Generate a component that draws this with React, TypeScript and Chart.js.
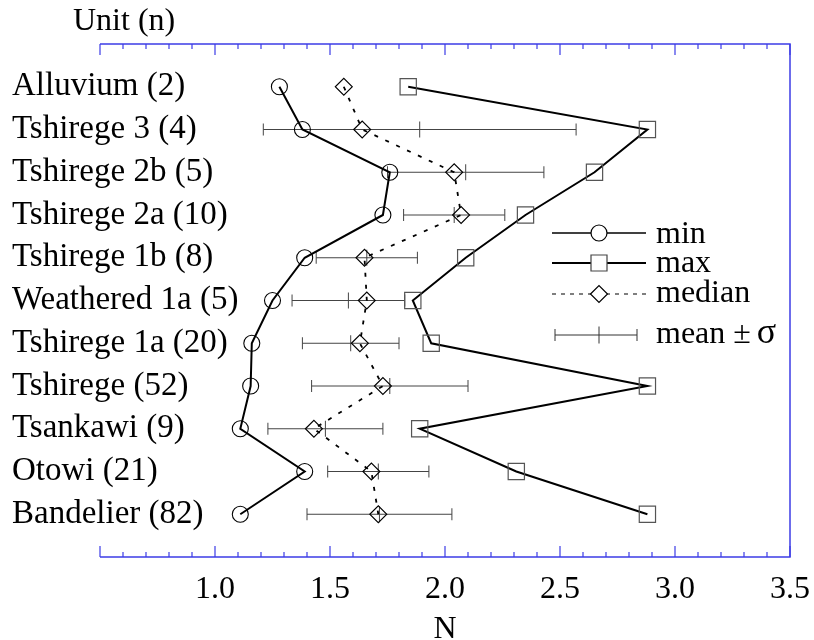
import React, { useEffect, useRef } from 'react';
import { Chart, registerables } from 'chart.js';

Chart.register(...registerables);

// ---------- data ----------
const categories = [
  'Alluvium (2)',
  'Tshirege 3 (4)',
  'Tshirege 2b (5)',
  'Tshirege 2a (10)',
  'Tshirege 1b (8)',
  'Weathered 1a (5)',
  'Tshirege 1a (20)',
  'Tshirege (52)',
  'Tsankawi (9)',
  'Otowi (21)',
  'Bandelier (82)',
];
const minN = [1.28, 1.38, 1.76, 1.73, 1.39, 1.25, 1.16, 1.155, 1.11, 1.39, 1.11];
const maxN = [1.84, 2.88, 2.65, 2.35, 2.09, 1.86, 1.94, 2.88, 1.89, 2.31, 2.88];
const medianN = [1.56, 1.64, 2.04, 2.07, 1.65, 1.66, 1.63, 1.73, 1.43, 1.68, 1.71];
const meanN: (number | null)[] = [null, 1.89, 2.09, 2.04, 1.66, 1.58, 1.59, 1.76, 1.48, 1.71, 1.715];
const sigmaN: (number | null)[] = [null, 0.68, 0.34, 0.22, 0.22, 0.245, 0.21, 0.34, 0.25, 0.22, 0.315];
const xMin = 0.5;
const xMax = 3.5;
const legendLabels = ['min', 'max', 'median', 'mean \u00b1 ', '\u03c3'];
const yAxisTitle = 'Unit (n)';
const xAxisTitle = 'N';

// ---------- styles ----------
const FONT = '"Liberation Serif", "Times New Roman", Times, serif';
const AXIS_BLUE = '#3c3ce6';

const toPoints = (arr: number[]) => arr.map((v, i) => ({ x: v, y: i }));

const drawCircle = (ctx: CanvasRenderingContext2D, x: number, y: number) => {
  ctx.beginPath();
  ctx.arc(x, y, 8, 0, Math.PI * 2);
  ctx.stroke();
};
const drawSquare = (ctx: CanvasRenderingContext2D, x: number, y: number) => {
  ctx.beginPath();
  ctx.rect(x - 8, y - 8, 16, 16);
  ctx.stroke();
};
const drawDiamond = (ctx: CanvasRenderingContext2D, x: number, y: number) => {
  ctx.beginPath();
  ctx.moveTo(x - 8.5, y);
  ctx.lineTo(x, y - 8.5);
  ctx.lineTo(x + 8.5, y);
  ctx.lineTo(x, y + 8.5);
  ctx.closePath();
  ctx.stroke();
};

const customPlugin = {
  id: 'customDecor',
  beforeDatasetsDraw(chart: any) {
    const { ctx, scales } = chart;
    const xs = scales.x;
    const ys = scales.y;
    ctx.save();
    ctx.strokeStyle = '#444444';
    ctx.lineWidth = 1;
    meanN.forEach((m, i) => {
      const s = sigmaN[i];
      if (m == null || s == null) return;
      const py = ys.getPixelForValue(i);
      const x0 = xs.getPixelForValue(m - s);
      const x1 = xs.getPixelForValue(m + s);
      const xm = xs.getPixelForValue(m);
      ctx.beginPath();
      ctx.moveTo(x0, py);
      ctx.lineTo(x1, py);
      ctx.moveTo(x0, py - 6);
      ctx.lineTo(x0, py + 6);
      ctx.moveTo(x1, py - 6);
      ctx.lineTo(x1, py + 6);
      ctx.moveTo(xm, py - 8);
      ctx.lineTo(xm, py + 8);
      ctx.stroke();
    });
    ctx.restore();
  },
  afterDraw(chart: any) {
    const { ctx, chartArea, scales } = chart;
    const xs = scales.x;
    const { left, right, top, bottom } = chartArea;
    ctx.save();
    // frame
    ctx.strokeStyle = AXIS_BLUE;
    ctx.lineWidth = 1.5;
    ctx.beginPath();
    ctx.moveTo(left, top);
    ctx.lineTo(right, top);
    ctx.lineTo(right, bottom);
    ctx.lineTo(left, bottom);
    ctx.stroke();
    // ticks
    ctx.lineWidth = 1.2;
    ctx.beginPath();
    for (let k = Math.round(xMin * 10); k <= Math.round(xMax * 10); k++) {
      const px = xs.getPixelForValue(k / 10);
      const len = k % 5 === 0 ? 11 : 5;
      ctx.moveTo(px, bottom);
      ctx.lineTo(px, bottom - len);
      ctx.moveTo(px, top);
      ctx.lineTo(px, top + len);
    }
    ctx.stroke();

    // y axis title
    ctx.fillStyle = '#000';
    ctx.font = `32px ${FONT}`;
    ctx.textAlign = 'left';
    ctx.textBaseline = 'alphabetic';
    ctx.fillText(yAxisTitle, 73, 30);

    // legend
    const lx0 = 552;
    const lx1 = 646;
    const lmx = 599;
    const tx = 656;
    const rows = [233, 263, 294, 335];
    const baselines = [243, 272, 302, 343];
    ctx.strokeStyle = '#000';
    // min
    ctx.lineWidth = 1.6;
    ctx.beginPath();
    ctx.moveTo(lx0, rows[0]);
    ctx.lineTo(lx1, rows[0]);
    ctx.stroke();
    ctx.lineWidth = 1.2;
    ctx.fillStyle = '#fff';
    ctx.beginPath();
    ctx.arc(lmx, rows[0], 8, 0, Math.PI * 2);
    ctx.fill();
    drawCircle(ctx, lmx, rows[0]);
    // max
    ctx.lineWidth = 2;
    ctx.beginPath();
    ctx.moveTo(lx0, rows[1]);
    ctx.lineTo(lx1, rows[1]);
    ctx.stroke();
    ctx.fillRect(lmx - 8, rows[1] - 8, 16, 16);
    ctx.lineWidth = 1.2;
    ctx.strokeStyle = '#444';
    drawSquare(ctx, lmx, rows[1]);
    // median
    ctx.strokeStyle = '#000';
    ctx.lineWidth = 1.2;
    ctx.setLineDash([4, 5]);
    ctx.beginPath();
    ctx.moveTo(lx0, rows[2]);
    ctx.lineTo(lx1, rows[2]);
    ctx.stroke();
    ctx.setLineDash([]);
    ctx.beginPath();
    ctx.moveTo(lmx - 8.5, rows[2]);
    ctx.lineTo(lmx, rows[2] - 8.5);
    ctx.lineTo(lmx + 8.5, rows[2]);
    ctx.lineTo(lmx, rows[2] + 8.5);
    ctx.closePath();
    ctx.fill();
    drawDiamond(ctx, lmx, rows[2]);
    // mean ± sigma
    ctx.strokeStyle = '#333';
    ctx.lineWidth = 1;
    ctx.beginPath();
    ctx.moveTo(555, rows[3]);
    ctx.lineTo(637, rows[3]);
    ctx.moveTo(555, rows[3] - 6);
    ctx.lineTo(555, rows[3] + 6);
    ctx.moveTo(637, rows[3] - 6);
    ctx.lineTo(637, rows[3] + 6);
    ctx.moveTo(599, rows[3] - 8.5);
    ctx.lineTo(599, rows[3] + 8.5);
    ctx.stroke();

    ctx.fillStyle = '#000';
    ctx.font = `32px ${FONT}`;
    ctx.fillText(legendLabels[0], tx, baselines[0]);
    ctx.fillText(legendLabels[1], tx, baselines[1]);
    ctx.fillText(legendLabels[2], tx, baselines[2]);
    ctx.fillText(legendLabels[3], tx, baselines[3]);
    const w = ctx.measureText(legendLabels[3]).width;
    ctx.font = `36px ${FONT}`;
    ctx.fillText(legendLabels[4], tx + w - 2, baselines[3]);
    ctx.restore();
  },
};

export default function App() {
  const canvasRef = useRef<HTMLCanvasElement | null>(null);

  useEffect(() => {
    if (!canvasRef.current) return;
    const chart = new Chart(canvasRef.current, {
      type: 'line',
      data: {
        datasets: [
          {
            label: 'median',
            data: toPoints(medianN),
            borderColor: '#000',
            borderWidth: 1.8,
            borderDash: [4, 8],
            pointStyle: 'rectRot',
            pointRadius: 8.5,
            pointBorderColor: '#000',
            pointBorderWidth: 1.1,
            pointBackgroundColor: 'rgba(0,0,0,0)',
            tension: 0,
          },
          {
            label: 'min',
            data: toPoints(minN),
            borderColor: '#000',
            borderWidth: 2,
            pointStyle: 'circle',
            pointRadius: 8,
            pointBorderColor: '#000',
            pointBorderWidth: 1.1,
            pointBackgroundColor: 'rgba(0,0,0,0)',
            tension: 0,
          },
          {
            label: 'max',
            data: toPoints(maxN),
            borderColor: '#000',
            borderWidth: 2,
            pointStyle: 'rect',
            pointRadius: 11.5,
            pointBorderColor: '#555',
            pointBorderWidth: 1.2,
            pointBackgroundColor: 'rgba(0,0,0,0)',
            tension: 0,
          },
        ],
      },
      options: {
        animation: false,
        responsive: false,
        events: [],
        layout: { padding: { left: 100, right: 24, top: 44, bottom: 0 } },
        plugins: {
          legend: { display: false },
          tooltip: { enabled: false },
          title: { display: false },
        },
        scales: {
          x: {
            type: 'linear',
            min: xMin,
            max: xMax,
            grid: { display: false, drawTicks: false },
            border: { display: false },
            ticks: {
              stepSize: 0.5,
              padding: 13,
              color: '#000',
              font: { family: FONT, size: 32, lineHeight: 1.2 },
              maxRotation: 0,
              autoSkip: false,
              callback: (v: any) => (Number(v) >= 0.99 ? Number(v).toFixed(1) : ''),
            },
            title: {
              display: true,
              text: xAxisTitle,
              color: '#000',
              font: { family: FONT, size: 32, lineHeight: 0.8 },
              padding: { top: 6.3, bottom: -2 },
            },
            afterFit: (scale: any) => {
              scale.height = 83;
              scale.paddingLeft = 0;
              scale.paddingRight = 0;
            },
          },
          y: {
            type: 'linear',
            reverse: true,
            min: -1,
            max: 11,
            grid: { display: false, drawTicks: false },
            border: { display: false },
            ticks: {
              stepSize: 1,
              mirror: true,
              crossAlign: 'near',
              padding: -88,
              color: '#000',
              autoSkip: false,
              font: { family: FONT, size: 33, lineHeight: 1.2 },
              callback: (v: any) => categories[Number(v)] ?? '',
            },
            afterFit: (scale: any) => {
              scale.width = 0;
              scale.paddingTop = 0;
              scale.paddingBottom = 0;
            },
          },
        },
      },
      plugins: [customPlugin],
    } as any);
    return () => chart.destroy();
  }, []);

  return (
    <canvas
      ref={canvasRef}
      width={814}
      height={640}
      style={{ position: 'absolute', left: 0, top: 0, width: 814, height: 640 }}
    />
  );
}
